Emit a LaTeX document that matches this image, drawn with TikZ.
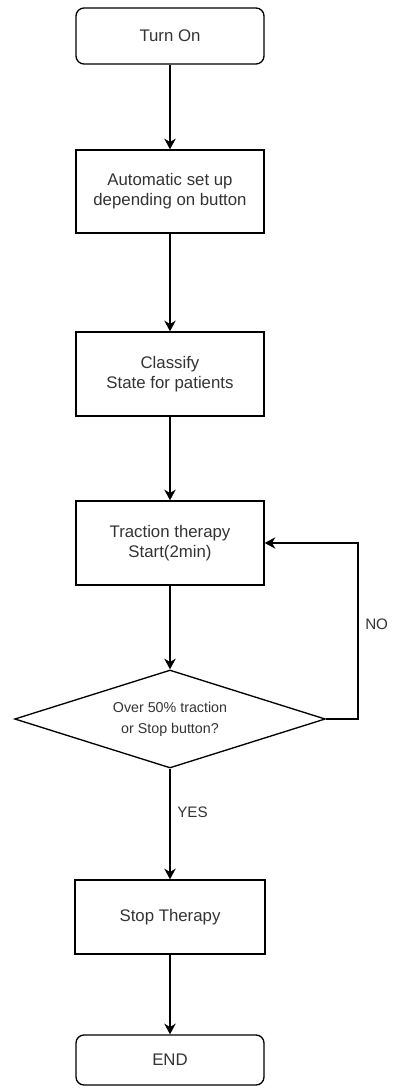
\documentclass[tikz,border=0pt]{standalone}
\usepackage{fontspec}
\setmainfont{Liberation Sans}
\usetikzlibrary{shapes.geometric,arrows.meta}
\definecolor{txt}{HTML}{333333}
\tikzset{
  base/.style={draw=black, line width=1pt, text=txt, align=center, inner sep=0pt,
    font=\fontsize{12.6}{15}\selectfont},
  procbox/.style={base, rectangle, minimum width=141pt},
  termbox/.style={base, rectangle, rounded corners=6pt, minimum width=141pt},
  decision/.style={base, diamond, minimum width=233pt, minimum height=73.5pt, aspect=3.17,
    font=\fontsize{10.7}{15.5}\selectfont},
  conn/.style={draw=black, line width=1pt, -{Stealth[length=8pt,width=8.5pt,inset=2.5pt]}},
  lbl/.style={text=txt, font=\fontsize{11.4}{14}\selectfont, inner sep=0pt}
}
\begin{document}
\begin{tikzpicture}[x=0.75pt,y=-0.75pt]
\useasboundingbox (0,0) rectangle (393,1088);
\node[termbox, minimum height=42pt] (turnon) at (170,36) {Turn On};
\node[procbox, minimum height=62.25pt] (auto) at (170,191.5) {Automatic set up\\depending on button};
\node[procbox, minimum height=63pt] (classify) at (170,374) {Classify\\State for patients};
\node[procbox, minimum height=63pt] (traction) at (170,543) {Traction therapy\\Start(2min)};
\node[decision] (dec) at (170,719) {Over 50\% traction\\or Stop button?};
\node[procbox, minimum width=142.5pt, minimum height=55.5pt] (stop) at (170,917) {Stop Therapy};
\node[termbox, minimum height=37.5pt] (endn) at (170,1060) {END};
\coordinate (c1) at (358,719);
\coordinate (c2) at (358,543);
\draw[conn] (turnon) -- (auto);
\draw[conn] (auto) -- (classify);
\draw[conn] (classify) -- (traction);
\draw[conn] (traction) -- (dec.north);
\draw[conn] (dec.south) -- (stop);
\draw[conn] (stop) -- (endn);
\draw[conn] (dec.east) -- (c1) -- (c2) -- (traction.east);
\node[lbl, anchor=west] (yes) at (177,812) {YES};
\node[lbl, anchor=west] (no) at (365,624) {NO};
\end{tikzpicture}
\end{document}
